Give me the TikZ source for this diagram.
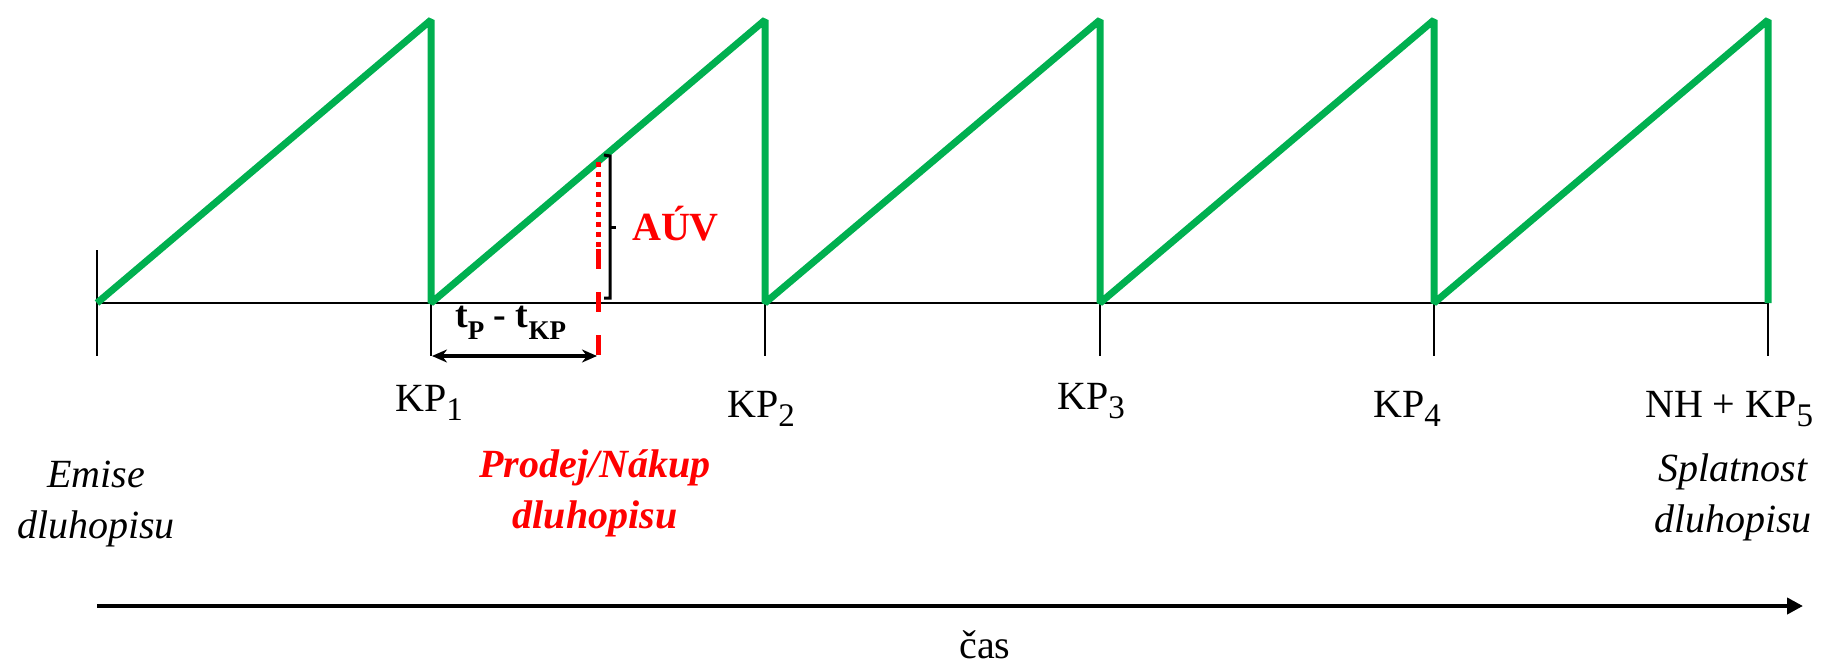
\documentclass[tikz,border=0pt]{standalone}
\usepackage{fontspec}
\setmainfont{Liberation Serif}
\usetikzlibrary{arrows.meta}
\definecolor{sawgreen}{RGB}{0,176,80}
\definecolor{markred}{RGB}{255,0,0}
\newcommand\lowsub[3]{\raisebox{-#1}{\fontsize{#2}{#2}\selectfont #3}}
\begin{document}
\begin{tikzpicture}[x=1pt,y=-1pt,
  saw/.style={draw=sawgreen,line width=7pt,line join=bevel},
  axisline/.style={draw=black,line width=2pt},
  tickmark/.style={draw=black,line width=2pt},
  redline/.style={draw=markred,line width=5pt},
  lbl/.style={font=\fontsize{40}{51}\selectfont,inner sep=0pt,anchor=base west},
  note/.style={font=\fontsize{40}{51}\selectfont,inner sep=0pt,anchor=base,align=center},
  dimarrow/.style={line width=4pt,{Stealth[length=15pt,width=13pt]}-{Stealth[length=15pt,width=13pt]}},
  timearrow/.style={line width=4pt,-{Triangle[length=16pt,width=16pt]}}
]
\useasboundingbox (0,0) rectangle (1823,664);
\foreach \i/\x in {0/97,1/431,2/765,3/1100,4/1434,5/1768}{
  \coordinate (A\i) at (\x,303);
  \coordinate (H\i) at (\x,20);
  \coordinate (U\i) at (\x,250);
  \coordinate (D\i) at (\x,356);
}
% axis and ticks
\draw[axisline] (A0) -- (A5);
\foreach \i in {0,...,5}{\draw[tickmark] (U\i) -- (D\i);}
% sawtooth
\draw[saw] (A0) -- (H1) -- (A1) -- (H2) -- (A2) -- (H3) -- (A3) -- (H4) -- (A4) -- (H5) -- (A5);
% red sale line
\coordinate (R0) at (598,162);
\coordinate (R1) at (598,247);
\coordinate (R2) at (598,249);
\coordinate (R3) at (598,356);
\draw[redline,dash pattern=on 5pt off 5pt] (R0) -- (R1);
\draw[redline,dash pattern=on 20pt off 23pt] (R2) -- (R3);
% bracket
\coordinate (B0) at (604,155);
\coordinate (B1) at (610,156);
\coordinate (B2) at (610,298);
\coordinate (B3) at (604,298);
\coordinate (B4) at (610,227);
\coordinate (B5) at (616,227);
\draw[line width=3pt] (B0) -- (B1) -- (B2) -- (B3);
\draw[line width=3pt] (B4) -- (B5);
\node[lbl,font=\fontsize{40}{51}\selectfont\bfseries,text=markred] (auv) at (632,240) {AÚV};
% t_P - t_KP
\node[lbl,font=\fontsize{38}{40}\selectfont\bfseries] (tdiff) at (455,327) {t\lowsub{12pt}{27}{P} - t\lowsub{12pt}{27}{KP}};
\coordinate (E0) at (432,356);
\coordinate (E1) at (597,356);
\draw[dimarrow] (E0) -- (E1);
% coupon labels
\node[lbl] (kp1) at (395,411) {KP\lowsub{9pt}{33}{1}};
\node[lbl] (kp2) at (727,417) {KP\lowsub{9pt}{33}{2}};
\node[lbl] (kp3) at (1057,409) {KP\lowsub{9pt}{33}{3}};
\node[lbl] (kp4) at (1373,417) {KP\lowsub{9pt}{33}{4}};
\node[lbl] (kp5) at (1645,417) {NH + KP\lowsub{9pt}{33}{5}};
% event labels (anchor base = baseline of last line)
\node[note,font=\fontsize{40}{51}\selectfont\itshape] (emise) at (96,538) {Emise\\dluhopisu};
\node[note,font=\fontsize{40}{51}\selectfont\bfseries\itshape,text=markred] (prodej) at (595,528) {Prodej/Nákup\\dluhopisu};
\node[note,font=\fontsize{40}{51}\selectfont\itshape] (splat) at (1733,532) {Splatnost\\dluhopisu};
% time arrow
\coordinate (T0) at (97,606);
\coordinate (T1) at (1803,606);
\draw[timearrow] (T0) -- (T1);
\node[note] (cas) at (985,658) {čas};
\end{tikzpicture}
\end{document}
